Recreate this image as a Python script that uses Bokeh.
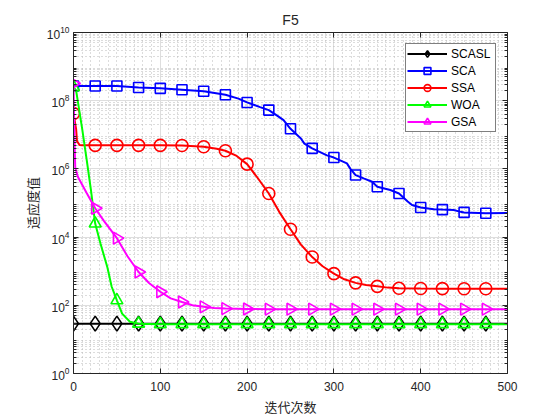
from bokeh.plotting import figure
from bokeh.models import (LogAxis, LinearAxis, SingleIntervalTicker, FixedTicker,
                          Legend, LegendItem, Range1d)
from bokeh.embed import file_html
from bokeh.resources import INLINE

# ---------------- data ----------------
scasl_x = [0, 25, 50, 75, 100, 125, 150, 175, 200, 225, 250, 275, 300, 325, 350, 375, 400, 425, 450, 475, 500]
scasl_y = [29, 29, 29, 29, 29, 29, 29, 29, 29, 29, 29, 29, 29, 29, 29, 29, 29, 29, 29, 29, 29]

sca_x = [0, 25, 50, 75, 100, 125, 150, 175, 190, 200, 215, 225, 235, 242, 250, 262, 266, 275,
         292, 300, 315, 319, 325, 335, 344, 350, 365, 375, 385, 390, 400, 415, 425, 438, 446, 450, 475, 500]
sca_y = [2.7e8, 2.7e8, 2.7e8, 2.45e8, 2.3e8, 2.1e8, 1.9e8, 1.5e8, 1.15e8, 8.9e7, 6.5e7, 5.3e7, 3.6e7, 2.7e7,
         1.5e7, 7.8e6, 5.5e6, 4.0e6, 2.5e6, 2.15e6, 1.45e6, 1.0e6, 6.6e5, 5.2e5, 4.2e5, 3.0e5, 2.4e5, 1.9e5,
         1.1e5, 8.7e4, 7.4e4, 6.6e4, 6.4e4, 6.2e4, 5.5e4, 5.3e4, 5.0e4, 5.1e4]

ssa_x = [0, 3, 4, 7, 10, 25, 50, 75, 100, 125, 150, 165, 175, 188, 200, 212, 225, 237, 250, 262, 275,
         287, 300, 312, 325, 337, 350, 362, 375, 400, 425, 450, 475, 500]
ssa_y = [4.2e7, 1.5e7, 6.5e6, 5.0e6, 4.9e6, 4.9e6, 4.9e6, 4.9e6, 4.9e6, 4.85e6, 4.45e6, 3.9e6, 3.4e6, 2.4e6,
         1.38e6, 5.5e5, 1.9e5, 5.5e4, 1.7e4, 6.0e3, 2.6e3, 1.4e3, 850, 580, 455, 395, 360, 330, 315,
         310, 308, 306, 305, 305]

woa_x = [0, 3, 10, 15, 20, 25, 31, 39, 44, 50, 56, 65, 75, 100, 125, 150, 175, 200, 225, 250, 275,
         300, 325, 350, 375, 400, 425, 450, 475, 500]
woa_y = [2.5e8, 2.0e8, 1.5e7, 2.0e6, 2.5e5, 2.5e4, 6.6e3, 1.3e3, 350, 140, 57, 33, 29, 28, 28, 28, 28, 28,
         28, 28, 28, 28, 28, 28, 28, 28, 28, 28, 28, 28]

gsa_x = [0, 1, 2, 5, 15, 25, 35, 50, 62, 75, 87, 100, 112, 125, 137, 150, 162, 175, 200, 225, 250, 275,
         300, 325, 350, 375, 400, 425, 450, 475, 500]
gsa_y = [3.2e8, 1.0e7, 1.1e6, 5.9e5, 2.0e5, 7.0e4, 3.0e4, 9.3e3, 2.8e3, 950, 450, 250, 160, 125, 100, 90,
         84, 80, 78, 77, 77, 77, 77, 77, 77, 77, 77, 77, 77, 77, 77]

series = [
    ("SCASL", scasl_x, scasl_y, "black", "diamond", 15, 0.0),
    ("SCA", sca_x, sca_y, "#0000ff", "square", 10, 0.0),
    ("SSA", ssa_x, ssa_y, "#ff0000", "circle", 12, 0.0),
    ("WOA", woa_x, woa_y, "#00ff00", "triangle", 12, 0.0),
    ("GSA", gsa_x, gsa_y, "#ff00ff", "triangle", 12, -1.5708),
]

x_major = [0, 100, 200, 300, 400, 500]
y_major = [1e0, 1e2, 1e4, 1e6, 1e8, 1e10]

FONT = "Liberation Sans"
CJK = "Noto Sans CJK SC"
TXT = "#262626"

p = figure(width=544, height=420, y_axis_type="log", output_backend="svg",
           toolbar_location=None, x_range=Range1d(0, 500), y_range=Range1d(1, 1e10),
           min_border_left=73, min_border_right=37, min_border_top=32, min_border_bottom=47,
           title="F5")
p.title.align = "center"
p.title.text_font = FONT
p.title.text_font_size = "14px"
p.title.text_font_style = "normal"
p.title.text_color = TXT
p.outline_line_color = None
p.background_fill_color = "white"

# ticks
y_minor = [m * 10 ** k for k in range(0, 10) for m in range(2, 10)]
xt = SingleIntervalTicker(interval=100, num_minor_ticks=10)
yt = FixedTicker(ticks=y_major, minor_ticks=y_minor)
p.xaxis.ticker = xt
p.yaxis.ticker = yt
p.xgrid.ticker = xt
p.ygrid.ticker = yt

for g in (p.xgrid[0], p.ygrid[0]):
    g.grid_line_color = "#dedede"
    g.grid_line_width = 1
    g.minor_grid_line_color = "#b8b8b8"
    g.minor_grid_line_dash = "1 3"
    g.minor_grid_line_width = 1

def style_axis(ax, labels=True, minor=True):
    ax.axis_line_color = TXT
    ax.major_tick_line_color = TXT
    ax.minor_tick_line_color = TXT if minor else None
    ax.major_tick_in = 5
    ax.major_tick_out = 0
    ax.minor_tick_in = 3
    ax.minor_tick_out = 0
    ax.major_label_text_font = FONT
    ax.major_label_text_font_size = "12px"
    ax.major_label_text_color = TXT
    if not labels:
        ax.major_label_text_alpha = 0

style_axis(p.xaxis[0], minor=False)
style_axis(p.yaxis[0])
p.xaxis[0].major_label_standoff = 8
p.yaxis[0].major_label_standoff = 4
p.xaxis[0].axis_label = "迭代次数"
p.yaxis[0].axis_label = "适应度值"
for ax in (p.xaxis[0], p.yaxis[0]):
    ax.axis_label_text_font = CJK
    ax.axis_label_text_font_size = "13px"
    ax.axis_label_text_font_style = "normal"
    ax.axis_label_text_color = TXT
p.xaxis[0].axis_label_standoff = 3
p.yaxis[0].axis_label_standoff = 2

ra = LogAxis(ticker=yt)
style_axis(ra, labels=False)
ra.major_label_text_font_size = "1px"
ta = LinearAxis(ticker=xt)
style_axis(ta, labels=False, minor=False)
ta.major_label_text_font_size = "1px"
p.add_layout(ra, "right")
p.add_layout(ta, "above")

items = []
for name, xs, ys, col, mk, sz, ang in series:
    r1 = p.line(xs, ys, line_color=col, line_width=2)
    mx = [x for x in xs if x % 25 == 0 and x < 500]
    my = [y for x, y in zip(xs, ys) if x % 25 == 0 and x < 500]
    r2 = p.scatter(mx, my, marker=mk, size=sz, angle=ang, line_color=col, line_width=1.6,
                   fill_color=None)
    items.append(LegendItem(label=name, renderers=[r1, r2]))

legend = Legend(items=items, location="top_right")
legend.margin = 11
legend.padding = 1
legend.spacing = 0
legend.glyph_width = 40
legend.glyph_height = 17
legend.label_height = 17
legend.label_width = 43
legend.label_standoff = 4
legend.label_text_font = FONT
legend.label_text_font_size = "12px"
legend.label_text_color = "black"
legend.border_line_color = "black"
legend.border_line_width = 1
legend.background_fill_alpha = 1
p.add_layout(legend, "center")

open("out.html", "w").write(file_html(p, INLINE))
